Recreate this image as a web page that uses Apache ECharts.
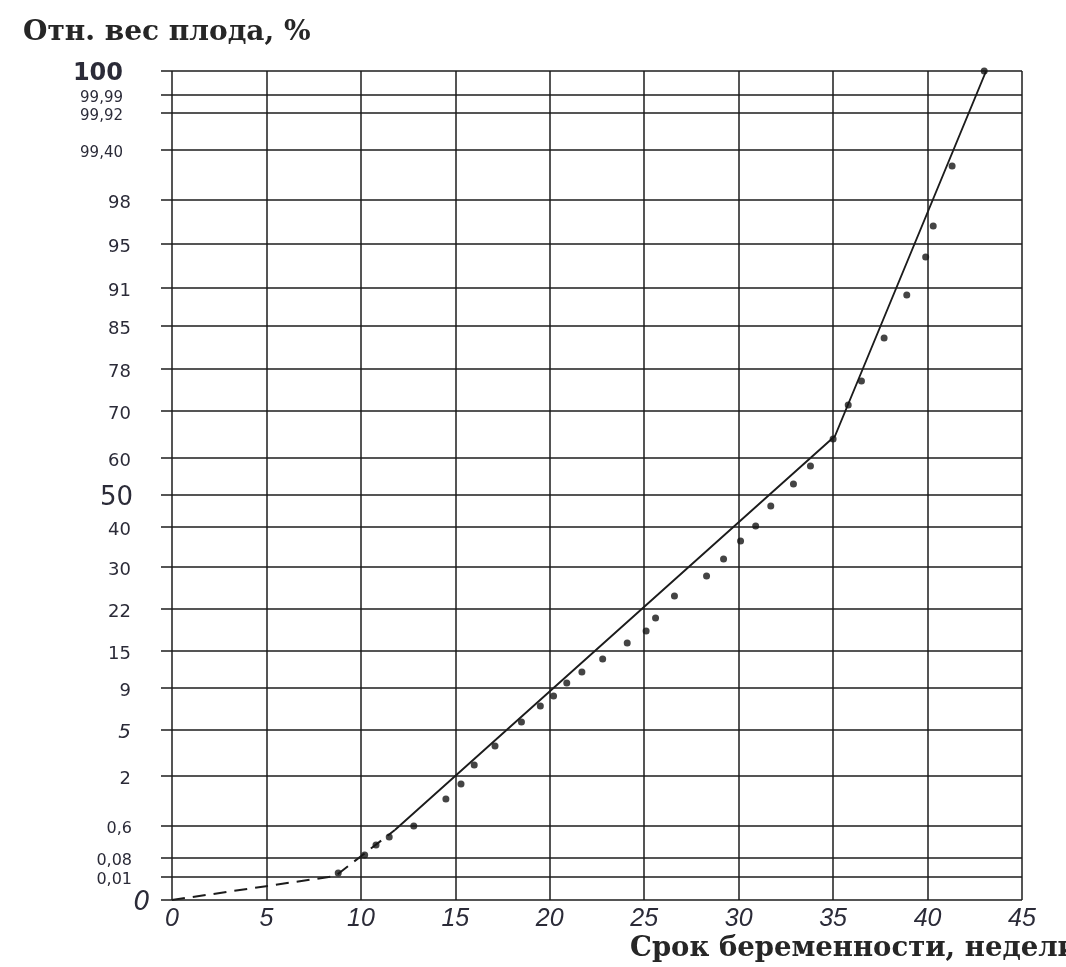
<!DOCTYPE html>
<html>
<head>
<meta charset="utf-8">
<script src="https://cdn.jsdelivr.net/npm/echarts@6/dist/echarts.min.js"></script>
<style>
  html, body { margin: 0; padding: 0; background: #ffffff; }
  #chart { width: 1066px; height: 967px; }
</style>
</head>
<body>
<div id="chart"></div>
<script>
// Probability-scale levels: each tick label and its position on the vertical scale
const yTickLabels = ['0', '0,01', '0,08', '0,6', '2', '5', '9', '15', '22', '30', '40', '50',
  '60', '70', '78', '85', '91', '95', '98', '99,40', '99,92', '99,99', '100'];
const yTickPos = [0, 23, 42, 74, 124, 170, 212, 249, 291, 333, 373, 405,
  442, 489, 531, 574, 612, 656, 700, 750, 787, 805, 829];

// Observations: gestational week and position on the probability scale
const pointWeeks = [8.8, 10.2, 10.8, 11.5, 12.8, 14.5, 15.3, 16.0, 17.1, 18.5, 19.5, 20.2,
  20.9, 21.7, 22.8, 24.1, 25.1, 25.6, 26.6, 28.3, 29.2, 30.1, 30.9, 31.7, 32.9, 33.8,
  35.0, 35.8, 36.5, 37.7, 38.9, 39.9, 40.3, 41.3, 43.0];
const pointLevels = [27, 45, 55, 63, 74, 101, 116, 135, 154, 178, 194, 204,
  217, 228, 241, 257, 269, 282, 304, 324, 341, 359, 374, 394, 416, 434,
  461, 495, 519, 562, 605, 643, 674, 734, 829];

// Fitted broken line: extrapolated (dashed) part and fitted (solid) part
const dashedWeeks = [0, 8.65, 11.8];
const dashedLevels = [0, 24, 70];
const solidWeeks = [11.8, 35.1, 43.1];
const solidLevels = [70, 464, 829];

const X_MIN = 0, X_MAX = 45, X_STEP = 5;
const Y_MAX = 829;

const INK = '#1c1c1c';
const LABEL_INK = '#2b2b38';

// Typography of the level labels
function levelLabelStyle(label) {
  const base = { size: 18, weight: 'normal', style: 'normal', dx: -41 };
  if (label === '100') return { size: 24, weight: 'bold', style: 'normal', dx: -49 };
  if (label === '99,40' || label === '99,92' || label === '99,99') return { size: 15, weight: 'normal', style: 'normal', dx: -49 };
  if (label === '50') return { size: 26, weight: 'normal', style: 'normal', dx: -39 };
  if (label === '0') return { size: 26, weight: 'normal', style: 'italic', dx: -22 };
  if (label === '5') return { size: 20, weight: 'normal', style: 'italic', dx: -41 };
  if (label === '0,6' || label === '0,08' || label === '0,01') return { size: 16, weight: 'normal', style: 'normal', dx: -40 };
  return base;
}

const chart = echarts.init(document.getElementById('chart'), null, { renderer: 'canvas' });

const option = {
  backgroundColor: '#ffffff',
  animation: false,
  title: [
    {
      text: 'Отн. вес плода, %',
      left: 18, top: 14,
      textStyle: { fontFamily: 'DejaVu Serif', fontWeight: 'bold', fontSize: 28, color: '#262626' }
    },
    {
      text: 'Срок беременности, недели',
      left: 625, top: 930,
      textStyle: { fontFamily: 'DejaVu Serif', fontWeight: 'bold', fontSize: 27.5, color: '#262626' }
    }
  ],
  grid: { left: 172, right: 44, top: 71, bottom: 67, containLabel: false },
  xAxis: {
    type: 'value',
    min: X_MIN, max: X_MAX, interval: X_STEP,
    axisLine: { show: false },
    axisTick: { show: false },
    axisLabel: {
      margin: 7,
      fontFamily: 'Liberation Sans',
      fontStyle: 'italic',
      fontSize: 25,
      color: LABEL_INK
    },
    splitLine: { show: true, lineStyle: { color: INK, width: 1.5 } }
  },
  yAxis: {
    type: 'value',
    min: 0, max: Y_MAX,
    show: false,
    splitLine: { show: false }
  },
  series: [
    {
      // horizontal level lines with their labels
      type: 'custom',
      silent: true,
      clip: false,
      z: 1,
      data: yTickPos.map((p, i) => [X_MIN, p, i]),
      renderItem: function (params, api) {
        const idx = api.value(2);
        const level = api.value(1);
        const left = api.coord([X_MIN, level]);
        const right = api.coord([X_MAX, level]);
        const label = yTickLabels[idx];
        const st = levelLabelStyle(label);
        return {
          type: 'group',
          children: [
            {
              type: 'line',
              shape: { x1: left[0] - 11, y1: left[1], x2: right[0], y2: right[1] },
              style: { stroke: INK, lineWidth: 1.7 }
            },
            {
              type: 'text',
              x: left[0] + st.dx,
              y: left[1] + 3,
              style: {
                text: label,
                align: 'right',
                verticalAlign: 'middle',
                fontFamily: 'DejaVu Sans',
                fontSize: st.size,
                fontWeight: st.weight,
                fontStyle: st.style,
                fill: LABEL_INK
              }
            }
          ]
        };
      }
    },
    {
      type: 'line',
      data: dashedWeeks.map((w, i) => [w, dashedLevels[i]]),
      symbol: 'none',
      z: 3,
      lineStyle: { color: INK, width: 2, type: [13, 8] }
    },
    {
      type: 'line',
      data: solidWeeks.map((w, i) => [w, solidLevels[i]]),
      symbol: 'none',
      z: 3,
      lineStyle: { color: INK, width: 1.9 }
    },
    {
      type: 'scatter',
      data: pointWeeks.map((w, i) => [w, pointLevels[i]]),
      symbol: 'circle',
      symbolSize: 7,
      z: 4,
      itemStyle: { color: '#151515' }
    }
  ]
};

chart.setOption(option);
</script>
</body>
</html>
